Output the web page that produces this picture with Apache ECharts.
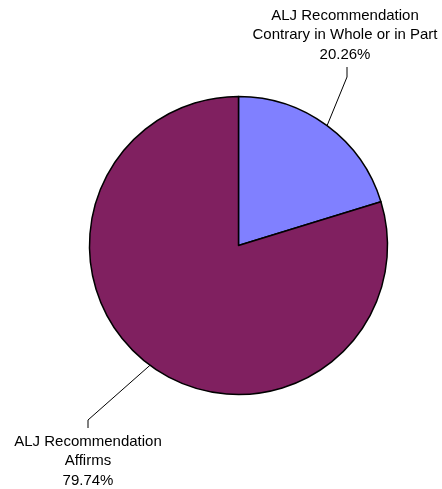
<!DOCTYPE html>
<html>
<head>
<meta charset="utf-8">
<script src="https://cdn.jsdelivr.net/npm/echarts@6/dist/echarts.min.js"></script>
<style>
  html, body { margin: 0; padding: 0; background: #ffffff; }
  #chart { width: 442px; height: 489px; }
</style>
</head>
<body>
<div id="chart"></div>
<script>
// Outcome shares of ALJ recommendations
const categories = [
  'ALJ Recommendation\nContrary in Whole or in Part',
  'ALJ Recommendation\nAffirms'
];
const shares = [20.26, 79.74];
const sliceColors = ['#8080FF', '#802060'];

// Where each label block sits (centre x, top y) and the short vertical
// tick at the end of its leader line (x, near y, far y).
const labelPlacement = [
  { x: 345, y: 6, tick: [347, 77, 67] },
  { x: 88, y: 432, tick: [88, 420, 428] }
];

const chart = echarts.init(document.getElementById('chart'), null, { renderer: 'canvas' });

chart.setOption({
  animation: false,
  backgroundColor: '#ffffff',
  series: [{
    type: 'pie',
    center: [238.5, 245.5],
    radius: 149,
    startAngle: 90,
    clockwise: true,
    silent: true,
    avoidLabelOverlap: false,
    data: categories.map((name, i) => ({
      name: name,
      value: shares[i],
      itemStyle: { color: sliceColors[i] }
    })),
    itemStyle: { borderColor: '#000000', borderWidth: 1.5 },
    label: {
      show: true,
      position: 'outside',
      overflow: 'none',
      formatter: p => p.name + '\n' + p.value.toFixed(2) + '%',
      fontFamily: 'Liberation Sans, Arial, sans-serif',
      fontSize: 15,
      lineHeight: 19.5,
      color: '#000000',
      align: 'center'
    },
    labelLine: {
      show: true,
      lineStyle: { color: '#000000', width: 1 }
    },
    labelLayout: function (params) {
      const place = labelPlacement[params.dataIndex];
      const start = params.labelLinePoints[0];
      return {
        x: place.x,
        y: place.y,
        align: 'center',
        verticalAlign: 'top',
        labelLinePoints: [
          start,
          [place.tick[0], place.tick[1]],
          [place.tick[0], place.tick[2]]
        ]
      };
    }
  }]
});
</script>
</body>
</html>
